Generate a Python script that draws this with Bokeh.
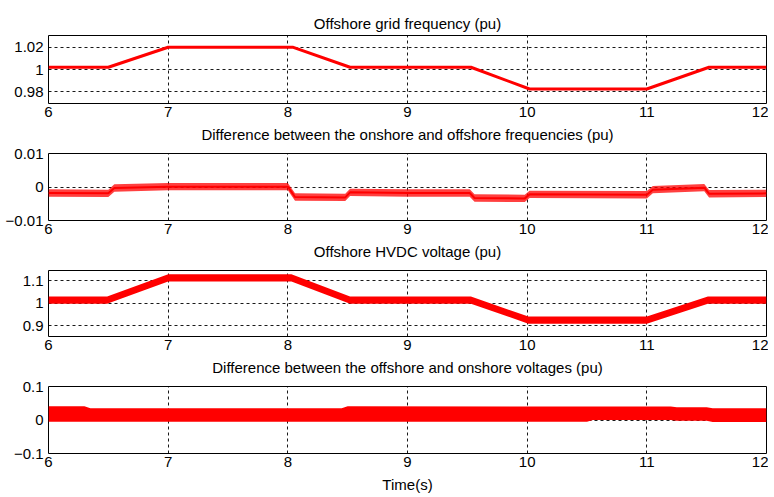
from bokeh.plotting import figure
from bokeh.layouts import column
from bokeh.models import FixedTicker, Range1d
from bokeh.embed import file_html
from bokeh.resources import INLINE

# ---------------- data ----------------
x_ticks = [6, 7, 8, 9, 10, 11, 12]

# Panel 1: offshore grid frequency (pu)
freq_t = [6.0, 6.5, 7.0, 8.04, 8.52, 9.53, 10.02, 11.0, 11.52, 12.0]
freq_v = [1.002, 1.002, 1.020, 1.020, 1.002, 1.002, 0.9825, 0.9825, 1.002, 1.002]
freq_ticks = [0.98, 1.0, 1.02]

# Panel 2: difference between onshore and offshore frequencies (pu)
dfreq_t = [6.0, 6.5, 6.55, 7.0, 8.0, 8.06, 8.48, 8.52, 9.0, 9.52, 9.56, 9.98, 10.02,
           11.0, 11.05, 11.48, 11.52, 12.0]
dfreq_v = [-0.0018, -0.0019, -0.0003, 0.0001, 0.0001, -0.0030, -0.0031, -0.0016, -0.0018,
           -0.0018, -0.0033, -0.0034, -0.0022, -0.0023, -0.0008, -0.0002, -0.0020, -0.0019]
dfreq_half = [0.0011] * len(dfreq_t)
dfreq_ticks = [-0.01, 0.0, 0.01]

# Panel 3: offshore HVDC voltage (pu)
hv_t = [6.0, 6.49, 7.0, 8.03, 8.52, 9.53, 10.01, 11.0, 11.51, 12.0]
hv_v = [1.013, 1.013, 1.112, 1.112, 1.013, 1.013, 0.924, 0.924, 1.013, 1.013]
hv_half = [0.016] * len(hv_t)
hv_ticks = [0.9, 1.0, 1.1]

# Panel 4: difference between offshore and onshore voltages (pu) - envelope
dv_t = [6.0, 6.3, 6.35, 8.45, 8.5, 10.5, 10.55, 11.2, 11.25, 11.5, 11.55, 12.0]
dv_upper = [0.041, 0.041, 0.035, 0.035, 0.041, 0.040, 0.040, 0.040, 0.038, 0.038, 0.035, 0.035]
dv_lower = [-0.005, -0.005, -0.005, -0.005, -0.005, -0.005, 0.000, 0.000, -0.002, -0.002, -0.006, -0.006]
dv_ticks = [-0.1, 0.0, 0.1]

titles = ["Offshore grid frequency (pu)",
          "Difference between the onshore and offshore frequencies (pu)",
          "Offshore HVDC voltage (pu)",
          "Difference between the offshore and onshore voltages (pu)"]
x_label = "Time(s)"

FONT = "Liberation Sans"
FS = "15px"
RED = "#ff0000"


def make_fig(yr, yticks, top, frame_h, bottom, title=None, below_text=None):
    p = figure(width=768, height=top + frame_h + bottom,
               x_range=Range1d(6, 12), y_range=Range1d(*yr),
               output_backend="svg", toolbar_location=None, title=title,
               min_border_left=48, min_border_right=2,
               min_border_top=top, min_border_bottom=bottom)
    if title is not None:
        p.title.align = "center"
        p.title.text_font = FONT
        p.title.text_font_size = FS
        p.title.text_font_style = "normal"
        p.title.text_color = "#000000"
        p.title.standoff = 7
    p.background_fill_color = "white"
    p.border_fill_color = "white"
    p.outline_line_color = "#000000"
    p.outline_line_width = 1
    p.outline_line_alpha = 1.0
    for ax in (p.xaxis[0], p.yaxis[0]):
        ax.axis_line_color = None
        ax.major_tick_line_color = None
        ax.minor_tick_line_color = None
        ax.major_tick_out = 0
        ax.major_tick_in = 0
        ax.minor_tick_out = 0
        ax.major_label_text_font = FONT
        ax.major_label_text_font_size = FS
        ax.major_label_text_color = "#000000"
    p.xaxis[0].ticker = FixedTicker(ticks=x_ticks)
    p.yaxis[0].ticker = FixedTicker(ticks=yticks)
    p.xaxis[0].major_label_standoff = 3
    p.yaxis[0].major_label_standoff = 5
    if below_text is not None:
        # text centred under this panel (the next panel's heading / the time label)
        p.xaxis[0].axis_label = below_text
        p.xaxis[0].axis_label_text_font = FONT
        p.xaxis[0].axis_label_text_font_size = FS
        p.xaxis[0].axis_label_text_font_style = "normal"
        p.xaxis[0].axis_label_text_color = "#000000"
        p.xaxis[0].axis_label_standoff = 6
    for g in (p.xgrid[0], p.ygrid[0]):
        g.grid_line_color = "#000000"
        g.grid_line_dash = "3 3"
        g.grid_line_width = 1
        g.grid_line_alpha = 0.9
    return p


p1 = make_fig((0.9695, 1.0305), freq_ticks, 35, 69, 41, title=titles[0], below_text=titles[1])
p1.line(freq_t, freq_v, line_color=RED, line_width=3)

p2 = make_fig((-0.01, 0.01), dfreq_ticks, 8, 68, 41, below_text=titles[2])
lo2 = [v - h for v, h in zip(dfreq_v, dfreq_half)]
hi2 = [v + h for v, h in zip(dfreq_v, dfreq_half)]
p2.varea(x=dfreq_t, y1=lo2, y2=hi2, fill_color=RED, fill_alpha=0.75)
p2.line(dfreq_t, dfreq_v, line_color=RED, line_width=2)

p3 = make_fig((0.851, 1.145), hv_ticks, 8, 67, 41, below_text=titles[3])
lo3 = [v - h for v, h in zip(hv_v, hv_half)]
hi3 = [v + h for v, h in zip(hv_v, hv_half)]
p3.varea(x=hv_t, y1=lo3, y2=hi3, fill_color=RED, fill_alpha=1.0)

p4 = make_fig((-0.1, 0.1), dv_ticks, 8, 67, 43, below_text=x_label)
p4.varea(x=dv_t, y1=dv_lower, y2=dv_upper, fill_color=RED, fill_alpha=1.0)

layout = column(p1, p2, p3, p4, spacing=0)
open("out.html", "w").write(file_html(layout, INLINE))
